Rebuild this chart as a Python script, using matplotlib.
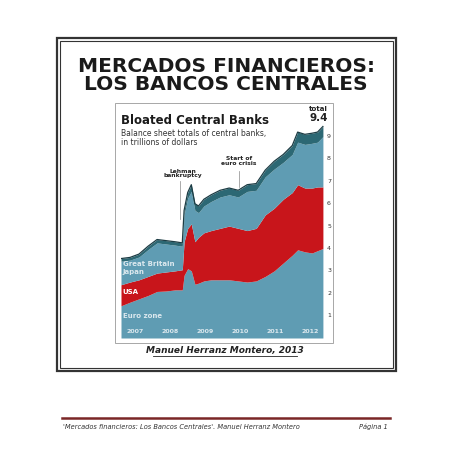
import matplotlib.pyplot as plt
from matplotlib.patches import Rectangle
from matplotlib.lines import Line2D

# --- values (trillions of dollars, cumulative tops) ---
dates = [2007.0, 2007.25, 2007.5, 2007.75, 2008.0, 2008.25, 2008.5, 2008.7, 2008.75,
         2008.85, 2008.95, 2009.05, 2009.15, 2009.3, 2009.5, 2009.75, 2010.0, 2010.25,
         2010.5, 2010.75, 2011.0, 2011.25, 2011.5, 2011.75, 2011.9, 2012.1, 2012.3,
         2012.45, 2012.6]
euro_top = [1.44, 1.6, 1.75, 1.9, 2.08, 2.1, 2.15, 2.15, 2.8, 3.1, 3.0, 2.4, 2.45, 2.55,
            2.6, 2.6, 2.6, 2.55, 2.5, 2.55, 2.75, 3.0, 3.35, 3.7, 3.94, 3.85, 3.8, 3.9, 4.0]
usa_top = [2.38, 2.5, 2.6, 2.75, 2.9, 2.95, 3.0, 3.05, 4.3, 4.9, 5.1, 4.3, 4.5, 4.7, 4.8,
           4.9, 5.0, 4.9, 4.8, 4.9, 5.5, 5.8, 6.2, 6.5, 6.85, 6.7, 6.7, 6.75, 6.75]
total = [3.55, 3.6, 3.75, 4.1, 4.4, 4.35, 4.3, 4.25, 5.7, 6.5, 6.85, 6.0, 5.9, 6.2, 6.4,
         6.6, 6.7, 6.6, 6.85, 6.9, 7.5, 7.9, 8.2, 8.6, 9.2, 9.1, 9.15, 9.2, 9.45]
gb_band = [0.12, 0.12, 0.13, 0.15, 0.15, 0.15, 0.15, 0.15, 0.2, 0.25, 0.3, 0.3, 0.3, 0.3,
           0.3, 0.3, 0.3, 0.3, 0.3, 0.3, 0.3, 0.35, 0.35, 0.4, 0.45, 0.45, 0.45, 0.45, 0.45]
years = [2007, 2008, 2009, 2010, 2011, 2012]
yticks = [1, 2, 3, 4, 5, 6, 7, 8, 9]

japan_top = [t - g for t, g in zip(total, gb_band)]

TEAL = "#5f9cb3"
RED = "#c8151b"
DARK = "#2c6874"

W = H = 453
fig = plt.figure(figsize=(4.53, 4.53), dpi=100)
page = fig.add_axes([0, 0, 1, 1])
page.set_xlim(0, W)
page.set_ylim(H, 0)
page.axis("off")

# double border
page.add_patch(Rectangle((57, 38), 339, 333, fill=False, lw=1.6, ec="#333333"))
page.add_patch(Rectangle((60, 41), 333, 327, fill=False, lw=0.8, ec="#333333"))
# chart frame
page.add_patch(Rectangle((115, 103), 218, 240, fill=False, lw=0.6, ec="#999999"))

page.text(226, 66, "MERCADOS FINANCIEROS:", ha="center", va="center",
          fontsize=14.5, fontweight="bold", color="#1a1a1a")
page.text(226, 84, "LOS BANCOS CENTRALES", ha="center", va="center",
          fontsize=14.5, fontweight="bold", color="#1a1a1a")
page.text(225, 351, "Manuel Herranz Montero, 2013", ha="center", va="center",
          fontsize=6.5, fontweight="bold", fontstyle="italic", color="#222222")
page.add_line(Line2D([153, 297], [356, 356], lw=0.6, color="#222222"))

page.add_line(Line2D([62, 390], [418, 418], lw=1.8, color="#7a2626"))
page.text(63, 427, "'Mercados financieros: Los Bancos Centrales'. Manuel Herranz Montero",
          ha="left", va="center", fontsize=4.8, fontstyle="italic", color="#333333")
page.text(388, 427, "Página 1", ha="right", va="center", fontsize=4.8,
          fontstyle="italic", color="#333333")

# --- the embedded chart ---
ax = fig.add_axes([121 / W, (H - 338) / H, 212 / W, 235 / H])
ax.set_xlim(2007.0, 2012.88)
ax.set_ylim(0, 10.5)
ax.axis("off")

ax.fill_between(dates, 0, euro_top, color=TEAL, lw=0)
ax.fill_between(dates, euro_top, usa_top, color=RED, lw=0)
ax.fill_between(dates, usa_top, japan_top, color=TEAL, lw=0)
ax.fill_between(dates, japan_top, total, color=DARK, lw=0)
ax.plot(dates, total, color="#1c3c44", lw=0.9)

for v in yticks:
    ax.text(2012.77, v, str(v), ha="center", va="center", fontsize=4.5, color="#333333")
for i, y in enumerate(years):
    ax.text(y + 0.4 - 0.03 * i, 0.3, str(y), ha="center", va="center", fontsize=4.5,
            fontweight="bold", color="#dbe8ee")

ax.text(2007.05, 3.3, "Great Britain", fontsize=5, fontweight="bold", color="#dbe8ee", va="center")
ax.text(2007.05, 2.95, "Japan", fontsize=5, fontweight="bold", color="#dbe8ee", va="center")
ax.text(2007.05, 2.05, "USA", fontsize=5, fontweight="bold", color="white", va="center")
ax.text(2007.05, 1.0, "Euro zone", fontsize=5, fontweight="bold", color="#dbe8ee", va="center")

ax.text(2008.72, 7.35, "Lehman\nbankruptcy", ha="center", va="center", fontsize=4.3,
        fontweight="bold", linespacing=0.9, color="#222222")
ax.plot([2008.63, 2008.63], [5.3, 7.0], color="#888888", lw=0.5)
ax.text(2010.27, 7.9, "Start of\neuro crisis", ha="center", va="center", fontsize=4.3,
        fontweight="bold", linespacing=0.9, color="#222222")
ax.plot([2010.27, 2010.27], [6.75, 7.45], color="#888888", lw=0.5)

ax.text(0.0, 0.925, "Bloated Central Banks", transform=ax.transAxes, fontsize=8.5,
        fontweight="bold", color="#1a1a1a", va="center")
ax.text(0.0, 0.85, "Balance sheet totals of central banks,\nin trillions of dollars",
        transform=ax.transAxes, fontsize=5.5, color="#333333", va="center", linespacing=0.95)
ax.text(0.975, 0.975, "total", transform=ax.transAxes, fontsize=5, fontweight="bold",
        ha="right", va="center", color="#222222")
ax.text(0.975, 0.935, "9.4", transform=ax.transAxes, fontsize=7.5, fontweight="bold",
        ha="right", va="center", color="#222222")

fig.savefig("out.png", dpi=100)
